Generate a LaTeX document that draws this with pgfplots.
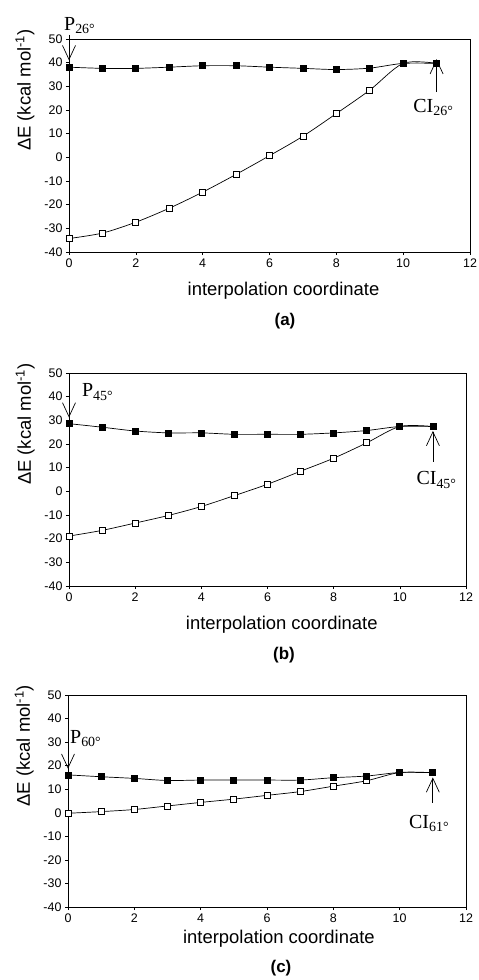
\documentclass[border=0pt]{standalone}
\usepackage{fontspec}
\setmainfont{Liberation Sans}
\newfontfamily\serif{Liberation Serif}
\usepackage{pgfplots}
\pgfplotsset{compat=1.18}
\usetikzlibrary{arrows.meta}

\pgfplotsset{
  panel/.style={
    scale only axis, clip=false,
    xmin=0, xmax=12, ymin=-40, ymax=50,
    xtick={0,2,...,12}, ytick={-40,-30,...,50},
    xtick pos=bottom, ytick pos=left,
    tick align=outside, major tick length=3bp,
    tick style={black, line width=0.6pt},
    axis line style={line width=0.8pt},
    ticklabel style={font=\fontsize{12.5}{14}\selectfont},
    /pgf/number format/assume math mode=true,
    xlabel={interpolation coordinate},
    ylabel={ΔE (kcal mol\textsuperscript{-1})},
    label style={font=\fontsize{18.5}{21}\selectfont},
    ylabel style={at={(axis description cs:-0.11,0.76)}, anchor=center},
  },
  filled/.style={black, line width=0.7pt, smooth, mark=square*, mark size=3bp, mark options={fill=black, solid}},
  open/.style={black, line width=0.7pt, smooth, mark=square*, mark size=3bp, mark options={fill=white, solid}},
}
\tikzset{
  arr/.style={line width=0.7pt, -{Straight Barb[length=14bp, width=13bp, line width=0.7pt]}},
  lab/.style={font=\serif\fontsize{20}{24}\selectfont, inner sep=0pt, anchor=base west},
}

\begin{document}
\begin{tikzpicture}
\useasboundingbox (0,0) rectangle (479bp,-980bp);

% (a)
\begin{axis}[panel, at={(69bp,-252bp)}, anchor=south west, width=401bp, height=213bp,
  xlabel style={at={(axis description cs:0.535,-0.18)}, anchor=center}]
\addplot[open] coordinates {(0,-34.3) (1,-32.0) (2,-27.4) (3,-21.5) (4,-14.7) (5,-7.2) (6,0.7) (7,8.9) (8,18.5) (9,28.4) (10,39.7) (11,39.7)};
\addplot[filled] coordinates {(0,38.1) (1,37.6) (2,37.6) (3,38.1) (4,38.7) (5,38.7) (6,38.1) (7,37.6) (8,37.1) (9,37.7) (10,39.7) (11,39.7)};
\draw[arr] (axis cs:0,51.7) -- (axis cs:0,41.0);
\node[lab] at (axis cs:-0.15,53.8) {P\textsubscript{26°}};
\draw[arr] (axis cs:11,27.6) -- (axis cs:11,41.5);
\node[lab] at (axis cs:10.3,18.9) {CI\textsubscript{26°}};
\end{axis}

% (b)
\begin{axis}[panel, at={(69bp,-586bp)}, anchor=south west, width=397bp, height=213bp,
  xlabel style={at={(axis description cs:0.536,-0.18)}, anchor=center}]
\addplot[open] coordinates {(0,-18.9) (1,-16.5) (2,-13.4) (3,-10.2) (4,-6.4) (5,-1.8) (6,3.0) (7,8.5) (8,14.0) (9,20.5) (10,27.4) (11,27.4)};
\addplot[filled] coordinates {(0,28.6) (1,27.1) (2,25.5) (3,24.7) (4,24.7) (5,24.1) (6,24.1) (7,24.1) (8,24.7) (9,25.7) (10,27.4) (11,27.4)};
\draw[arr] (axis cs:0,37.3) -- (axis cs:0,31.2);
\node[lab] at (axis cs:0.39,39.9) {P\textsubscript{45°}};
\draw[arr] (axis cs:11,12.4) -- (axis cs:11,25.5);
\node[lab] at (axis cs:10.5,2.7) {CI\textsubscript{45°}};
\end{axis}

% (c)
\begin{axis}[panel, at={(68bp,-907bp)}, anchor=south west, width=398bp, height=212bp,
  xlabel style={at={(axis description cs:0.53,-0.15)}, anchor=center}]
\addplot[open] coordinates {(0,-0.2) (1,0.5) (2,1.4) (3,2.9) (4,4.4) (5,5.8) (6,7.4) (7,9.0) (8,11.3) (9,13.6) (10,17.1) (11,17.0)};
\addplot[filled] coordinates {(0,16.1) (1,15.3) (2,14.6) (3,13.7) (4,13.9) (5,13.9) (6,13.9) (7,13.9) (8,14.9) (9,15.6) (10,17.1) (11,17.0)};
\draw[arr] (axis cs:0,39.4) -- (axis cs:0,18.7);
\node[lab] at (axis cs:0.06,29.5) {P\textsubscript{60°}};
\draw[arr] (axis cs:11,4.2) -- (axis cs:11,15.0);
\node[lab] at (axis cs:10.28,-6.6) {CI\textsubscript{61°}};
\end{axis}

\node[font=\bfseries\fontsize{17}{20}\selectfont] at (285bp,-321bp) {(a)};
\node[font=\bfseries\fontsize{17}{20}\selectfont] at (284bp,-655bp) {(b)};
\node[font=\bfseries\fontsize{17}{20}\selectfont] at (281bp,-968bp) {(c)};
\end{tikzpicture}
\end{document}
